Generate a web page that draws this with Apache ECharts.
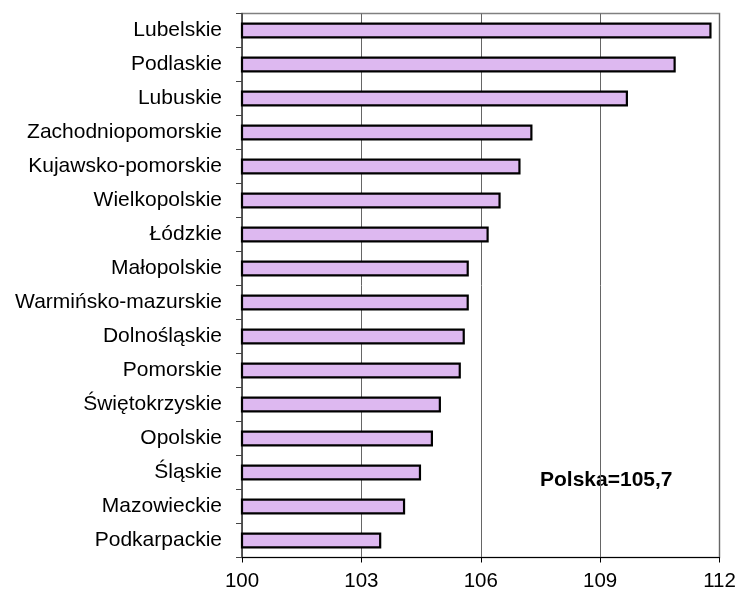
<!DOCTYPE html>
<html>
<head>
<meta charset="utf-8">
<script src="https://cdn.jsdelivr.net/npm/echarts@6/dist/echarts.min.js"></script>
<style>html,body{margin:0;padding:0;background:#fff}#c{width:739px;height:592px}</style>
</head>
<body>
<div id="c"></div>
<script>
const categories = ["Lubelskie","Podlaskie","Lubuskie","Zachodniopomorskie","Kujawsko-pomorskie","Wielkopolskie","Łódzkie","Małopolskie","Warmińsko-mazurskie","Dolnośląskie","Pomorskie","Świętokrzyskie","Opolskie","Śląskie","Mazowieckie","Podkarpackie"];
const values = [111.8,110.9,109.7,107.3,107.0,106.5,106.2,105.7,105.7,105.6,105.5,105.0,104.8,104.5,104.1,103.5];
const annotation = "Polska=105,7";
const xTicks = [100,103,106,109,112];

const chart = echarts.init(document.getElementById('c'));
const font = "'Liberation Sans', Arial, sans-serif";
chart.setOption({
  animation: false,
  grid: {left: 242, right: 19.5, top: 13.5, bottom: 34.5, show: true, borderColor: '#808080', borderWidth: 1.5},
  xAxis: {
    type: 'value', min: 100, max: 112, interval: 3,
    axisLine: {show: true, lineStyle: {color: '#000', width: 1}},
    axisTick: {show: true, length: 5, lineStyle: {color: '#000'}},
    axisLabel: {color: '#000', fontSize: 20.5, fontFamily: font, margin: 13,
      customValues: xTicks, formatter: v => String(v)},
    splitLine: {show: true, lineStyle: {color: '#666', width: 1}}
  },
  yAxis: {
    type: 'category', data: categories, inverse: true,
    axisLine: {show: true, lineStyle: {color: '#444', width: 1.5}},
    axisTick: {show: true, length: 6, lineStyle: {color: '#444'}},
    axisLabel: {color: '#000', fontSize: 21, fontFamily: font, margin: 20}
  },
  series: [{
    type: 'bar', data: values, barWidth: 16,
    itemStyle: {color: '#DDB8F0', borderColor: '#000', borderWidth: 2.2}
  }],
  graphic: [{
    type: 'text', left: 539, top: 463,
    style: {text: annotation, font: "bold 21px " + font, fill: '#000', lineHeight: 22,
      backgroundColor: '#fff', padding: [6, 1, 6, 1]}
  }]
});
</script>
</body>
</html>
